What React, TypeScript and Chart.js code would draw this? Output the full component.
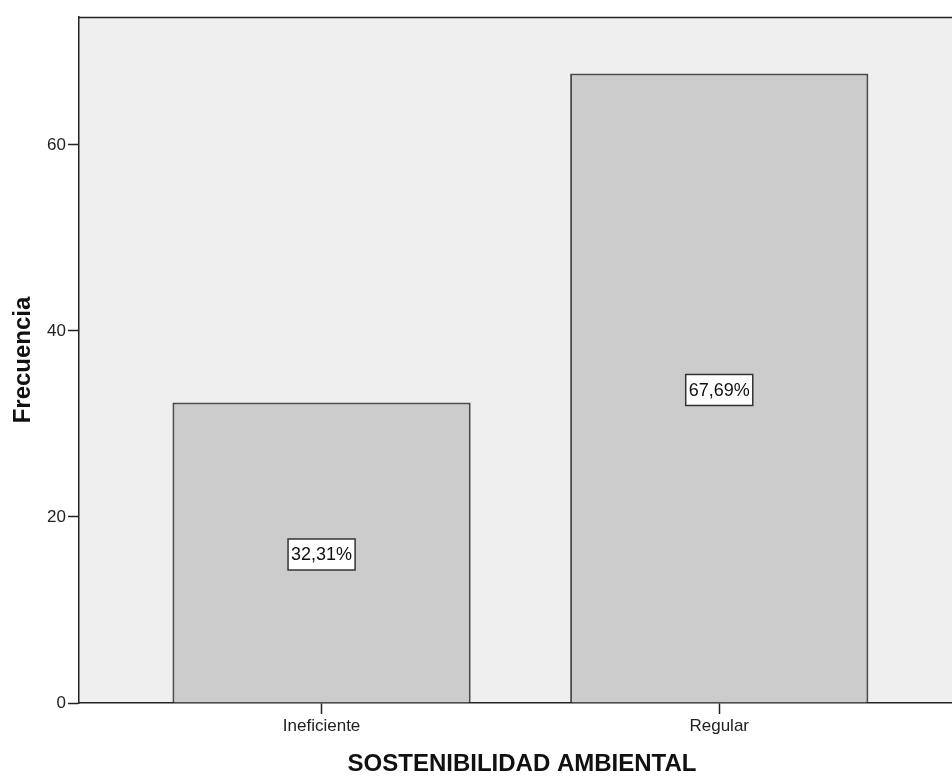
import React, { useEffect, useRef } from "react";
import { Chart, registerables } from "chart.js";

Chart.register(...registerables);

const categories = ["Ineficiente", "Regular"];
const values = [32.31, 67.69];
const percentLabels = ["32,31%", "67,69%"];
const yTicks = [0, 20, 40, 60];
const yMax = 73.76;
const xMin = -0.61;
const xMax = 1.618;

const FONT = '"Liberation Sans", Arial, sans-serif';

const plotPlugin = {
  id: "plotDecor",
  beforeDraw(chart: any) {
    const { ctx, chartArea } = chart;
    ctx.save();
    ctx.fillStyle = "#efefef";
    ctx.fillRect(chartArea.left, chartArea.top, chartArea.right - chartArea.left, chartArea.bottom - chartArea.top);
    ctx.restore();
  },
  afterDraw(chart: any) {
    const { ctx, chartArea } = chart;
    ctx.save();
    ctx.strokeStyle = "#222222";
    ctx.lineWidth = 1.5;
    ctx.beginPath();
    ctx.moveTo(chartArea.left, chartArea.top + 0.5);
    ctx.lineTo(chartArea.right, chartArea.top + 0.5);
    ctx.stroke();
    ctx.restore();
  },
};

const labelPlugin = {
  id: "pctLabels",
  afterDatasetsDraw(chart: any) {
    const { ctx } = chart;
    const meta = chart.getDatasetMeta(0);
    ctx.save();
    ctx.font = `18px ${FONT}`;
    ctx.textAlign = "center";
    ctx.textBaseline = "middle";
    meta.data.forEach((bar: any, i: number) => {
      const text = percentLabels[i];
      const cx = bar.x;
      const cy = (bar.y + bar.base) / 2 + 2;
      const w = ctx.measureText(text).width + 6;
      const h = 31;
      ctx.fillStyle = "#ffffff";
      ctx.fillRect(cx - w / 2, cy - h / 2, w, h);
      ctx.strokeStyle = "#333333";
      ctx.lineWidth = 1.5;
      ctx.strokeRect(cx - w / 2, cy - h / 2, w, h);
      ctx.fillStyle = "#111111";
      ctx.fillText(text, cx, cy + 1);
    });
    ctx.restore();
  },
};

export default function App() {
  const canvasRef = useRef<HTMLCanvasElement | null>(null);

  useEffect(() => {
    const canvas = canvasRef.current;
    if (!canvas) return;
    const chart = new Chart(canvas, {
      type: "bar",
      data: {
        datasets: [
          {
            data: values.map((v, i) => ({ x: i, y: v })),
            backgroundColor: "#cccccc",
            borderColor: "#4a4a4a",
            borderWidth: 2,
            borderSkipped: "start",
            barPercentage: 0.75,
            categoryPercentage: 1,
          },
        ],
      },
      options: {
        responsive: false,
        animation: false,
        layout: { padding: { top: 17, right: 0, bottom: 0, left: 0 } },
        plugins: {
          legend: { display: false },
          tooltip: { enabled: false },
        },
        scales: {
          x: {
            type: "linear",
            min: xMin,
            max: xMax,
            offset: false,
            afterBuildTicks: (scale: any) => {
              scale.ticks = categories.map((_, i) => ({ value: i }));
            },
            afterFit: (scale: any) => {
              scale.height = 76;
            },
            ticks: {
              callback: (v: any) => categories[Math.round(Number(v))] ?? "",
              font: { family: FONT, size: 17 },
              color: "#222222",
              padding: 2,
              maxRotation: 0,
              autoSkip: false,
            },
            grid: {
              display: true,
              offset: false,
              drawOnChartArea: false,
              drawTicks: true,
              tickLength: 11,
              tickColor: "#222222",
              tickWidth: 1.5,
            },
            border: { display: true, color: "#222222", width: 1.5 },
            title: {
              display: true,
              text: "SOSTENIBILIDAD AMBIENTAL",
              font: { family: FONT, size: 24, weight: "bold" },
              color: "#111111",
              padding: { top: 0, bottom: 0 },
            },
          },
          y: {
            min: 0,
            max: yMax,
            afterBuildTicks: (scale: any) => {
              scale.ticks = yTicks.map((v) => ({ value: v }));
            },
            afterFit: (scale: any) => {
              scale.width = 79;
            },
            ticks: {
              font: { family: FONT, size: 17 },
              color: "#222222",
              padding: 2,
            },
            grid: {
              display: true,
              drawOnChartArea: false,
              drawTicks: true,
              tickLength: 11,
              tickColor: "#222222",
              tickWidth: 1.5,
            },
            border: { display: true, color: "#222222", width: 1.5 },
            title: {
              display: true,
              text: "Frecuencia",
              font: { family: FONT, size: 24, weight: "bold" },
              color: "#111111",
              padding: { top: 9, bottom: 0 },
            },
          },
        },
      },
      plugins: [plotPlugin, labelPlugin],
    });
    return () => chart.destroy();
  }, []);

  return (
    <div
      style={{
        position: "absolute",
        left: 0,
        top: 0,
        width: 952,
        height: 779,
        overflow: "hidden",
        background: "#ffffff",
      }}
    >
      <canvas ref={canvasRef} width={965} height={779} style={{ display: "block" }} />
    </div>
  );
}
